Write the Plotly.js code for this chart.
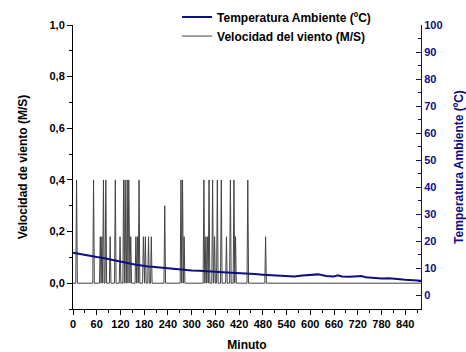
<!DOCTYPE html>
<html>
<head>
<meta charset="utf-8">
<script src="https://cdn.plot.ly/plotly-3.0.1.min.js"></script>
<style>html,body{margin:0;padding:0;background:#fff;}#chart{width:466px;height:352px;}</style>
</head>
<body>
<div id="chart"></div>
<script>
// Wind speed (M/S) vs minute
var windMinutes = [0,
  7, 9, 11,
  50, 52, 54,
  67, 69, 71, 73, 75, 77, 79,
  81, 83, 85,
  92, 94, 96,
  105, 107, 109,
  117, 119, 121,
  126, 128, 130, 132, 134,
  135, 137, 139, 141, 143,
  144, 146, 148,
  157, 159, 161, 163, 165, 167, 169,
  176, 178, 180,
  181, 183, 185,
  189, 191, 193,
  196, 198, 200,
  230, 232, 234,
  271, 273, 275, 277, 279, 281, 283,
  329, 331, 333,
  334, 336, 338, 340, 342, 344, 346,
  351, 353, 355,
  356, 358, 360,
  363, 365, 367,
  373, 375, 377,
  386, 388, 390,
  396, 398, 400,
  405, 407, 409, 411, 413,
  440, 442, 444,
  485, 487, 489,
  880];
var windValues = [0,
  0, 0.4, 0,
  0, 0.4, 0,
  0, 0.18, 0, 0.18, 0, 0.4, 0,
  0, 0.4, 0,
  0, 0.18, 0,
  0, 0.4, 0,
  0, 0.18, 0,
  0, 0.4, 0, 0.4, 0,
  0, 0.4, 0, 0.4, 0,
  0, 0.18, 0,
  0, 0.18, 0, 0.18, 0, 0.4, 0,
  0, 0.18, 0,
  0, 0.18, 0,
  0, 0.18, 0,
  0, 0.18, 0,
  0, 0.3, 0,
  0, 0.4, 0, 0.4, 0, 0.18, 0,
  0, 0.4, 0,
  0, 0.18, 0, 0.18, 0, 0.4, 0,
  0, 0.4, 0,
  0, 0.18, 0,
  0, 0.4, 0,
  0, 0.4, 0,
  0, 0.18, 0,
  0, 0.4, 0,
  0, 0.4, 0, 0.18, 0,
  0, 0.4, 0,
  0, 0.18, 0,
  0];

// Ambient temperature (ºC) vs minute
var tempMinutes = [0, 10, 20, 30, 40, 50, 60, 70, 80, 90, 100, 110, 120, 130, 140, 150, 160, 170, 180, 190, 200,
  220, 240, 260, 280, 300, 320, 340, 360, 380, 400, 420, 440, 460, 480, 500, 520, 540, 560, 580, 600, 620,
  640, 660, 670, 680, 700, 720, 730, 740, 760, 780, 800, 820, 840, 860, 880];
var tempValues = [15.8, 15.5, 15.3, 15.0, 14.6, 14.4, 14.2, 14.0, 13.7, 13.3, 12.9, 12.6, 12.4, 12.1, 11.9, 11.6, 11.4, 11.1, 10.9, 10.7, 10.6,
  10.3, 10.0, 9.7, 9.4, 9.2, 9.1, 9.0, 8.9, 8.6, 8.4, 8.3, 8.2, 7.9, 7.7, 7.5, 7.3, 7.2, 7.0, 7.4, 7.6, 7.8,
  7.2, 7.0, 7.5, 7.0, 6.9, 7.0, 7.2, 6.7, 6.4, 6.3, 6.4, 6.0, 5.8, 5.6, 5.4];

var leftTicks = [0, 0.2, 0.4, 0.6, 0.8, 1.0];
var rightTicks = [0, 10, 20, 30, 40, 50, 60, 70, 80, 90, 100];
var xTicks = [0, 60, 120, 180, 240, 300, 360, 420, 480, 540, 600, 660, 720, 780, 840];

var NAVY = '#0d0d84';
var FONT = 'Liberation Sans, Arial, sans-serif';

var traces = [
  {x: tempMinutes, y: tempValues, type: 'scatter', mode: 'lines', name: 'Temperatura Ambiente (ºC)',
   yaxis: 'y2', line: {color: NAVY, width: 2}},
  {x: windMinutes, y: windValues, type: 'scatter', mode: 'lines', name: 'Velocidad del viento (M/S)',
   line: {color: '#444444', width: 1}}
];

var layout = {
  width: 466, height: 352,
  margin: {l: 73, r: 45, t: 25, b: 43, pad: 0, autoexpand: false},
  paper_bgcolor: '#ffffff', plot_bgcolor: '#ffffff',
  separators: ',.',
  font: {family: FONT, size: 11, color: '#000', weight: 'bold'},
  showlegend: true,
  legend: {x: 0.299, y: 1.079, xanchor: 'left', yanchor: 'top', bgcolor: 'rgba(0,0,0,0)',
           font: {family: FONT, size: 12, color: '#000', weight: 'bold'}, tracegroupgap: 0},
  xaxis: {
    range: [0, 880], showgrid: false, zeroline: false, showline: true, linecolor: '#000', linewidth: 1,
    ticks: 'outside', ticklen: 5, tickcolor: '#000', tickmode: 'array', tickvals: xTicks,
    minor: {dtick: 30, tick0: 0, ticks: 'outside', ticklen: 3, tickcolor: '#000'},
    tickfont: {family: FONT, size: 11, color: '#000', weight: 'bold'},
    title: {text: 'Minuto', font: {family: FONT, size: 12, color: '#000', weight: 'bold'}, standoff: 14}
  },
  yaxis: {
    range: [-0.1, 1.0], showgrid: false, zeroline: false, showline: true, linecolor: '#000', linewidth: 1,
    ticks: 'outside', ticklen: 5, tickcolor: '#000', tickmode: 'array', tickvals: leftTicks, tickformat: '.1f',
    minor: {dtick: 0.1, tick0: 0, ticks: 'outside', ticklen: 3, tickcolor: '#000'},
    tickfont: {family: FONT, size: 11, color: '#000', weight: 'bold'},
    title: {text: 'Velocidad de viento (M/S)', font: {family: FONT, size: 12, color: '#000', weight: 'bold'}, standoff: 19}
  },
  yaxis2: {
    overlaying: 'y', side: 'right', anchor: 'x',
    range: [-5, 100], showgrid: false, zeroline: false, showline: true, linecolor: NAVY, linewidth: 1,
    ticks: 'inside', ticklen: 5, tickcolor: NAVY, tickmode: 'array', tickvals: rightTicks,
    minor: {dtick: 5, tick0: 0, ticks: 'inside', ticklen: 3, tickcolor: NAVY},
    tickfont: {family: FONT, size: 11, color: NAVY, weight: 'bold'},
    title: {text: 'Temperatura Ambiente (ºC)', font: {family: FONT, size: 12, color: NAVY, weight: 'bold'}, standoff: 14}
  }
};

Plotly.newPlot('chart', traces, layout, {displayModeBar: false, staticPlot: true});
</script>
</body>
</html>
